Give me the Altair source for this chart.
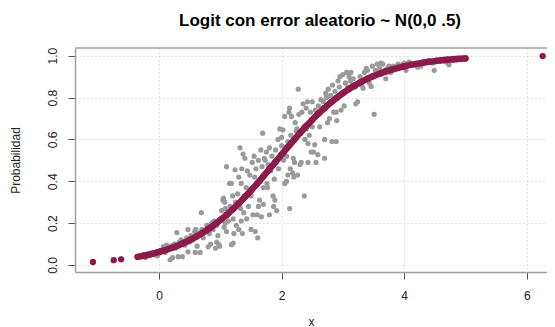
import altair as alt
import pandas as pd

TITLE = "Logit con error aleatorio ~ N(0,0 .5)"
X_TITLE = "x"
Y_TITLE = "Probabilidad"
X_TICKS = [0, 2, 4, 6]
Y_TICKS = [0.0, 0.2, 0.4, 0.6, 0.8, 1.0]
X_DOMAIN = [-1.373, 6.331]
Y_DOMAIN = [-0.0334, 1.0368]

# fitted probabilities (maroon points)
curve_x = [-1.08, -0.74, -0.62, -0.35, -0.25, -0.2, -0.1,
           0.0, 0.1, 0.2, 0.3, 0.4, 0.5, 0.6, 0.7, 0.8, 0.9,
           1.0, 1.1, 1.2, 1.3, 1.4, 1.5, 1.6, 1.7, 1.8, 1.9,
           2.0, 2.1, 2.2, 2.3, 2.4, 2.5, 2.6, 2.7, 2.8, 2.9,
           3.0, 3.1, 3.2, 3.3, 3.4, 3.5, 3.6, 3.7, 3.8, 3.9,
           4.0, 4.1, 4.2, 4.3, 4.4, 4.5, 4.6, 4.7, 4.8, 4.9,
           5.0, 6.26]
curve_p = [0.0143, 0.0230, 0.0271, 0.039, 0.0448, 0.0479, 0.0548,
           0.0626, 0.0714, 0.0813, 0.0924, 0.105, 0.119, 0.1346, 0.152, 0.171, 0.192,
           0.215, 0.239, 0.266, 0.294, 0.325, 0.356, 0.389, 0.423, 0.458, 0.493,
           0.528, 0.563, 0.597, 0.631, 0.663, 0.694, 0.723, 0.750, 0.776, 0.799,
           0.821, 0.841, 0.859, 0.875, 0.890, 0.903, 0.914, 0.925, 0.934, 0.942,
           0.949, 0.956, 0.961, 0.966, 0.971, 0.974, 0.978, 0.981, 0.983, 0.985,
           0.987, 0.998]

# observed (noisy) probabilities, gray points
gray_x = [
    -1.08, -0.74, -0.62, -0.30, -0.25, -0.22, -0.18, -0.15, -0.12, -0.08, -0.05, -0.03, 0.00, 0.02, 0.05, 0.07, 0.08, 0.10, 0.12, 0.15, 0.18, 0.20, 0.22,
    0.25, 0.27, 0.29, 0.31, 0.33, 0.36, 0.38, 0.40, 0.42, 0.45, 0.47, 0.47, 0.50, 0.52, 0.55, 0.58, 0.59,
    0.60, 0.62, 0.64, 0.67, 0.69, 0.70, 0.72, 0.75, 0.78, 0.80, 0.82, 0.84, 0.86, 0.88, 0.90, 0.92, 0.94, 0.94, 0.96, 0.97, 0.99,
    1.00, 1.02, 1.04, 1.05, 1.06, 1.07, 1.08, 1.08, 1.10, 1.10, 1.12, 1.13, 1.15, 1.16, 1.18, 1.18, 1.20, 1.21, 1.21, 1.22, 1.24, 1.25, 1.26, 1.28, 1.30, 1.30, 1.32, 1.33, 1.34, 1.34, 1.35, 1.36, 1.37, 1.38, 1.40, 1.40,
    1.42, 1.43, 1.44, 1.46, 1.48, 1.50, 1.50, 1.52, 1.53, 1.54, 1.55, 1.56, 1.57, 1.58, 1.60, 1.61, 1.62, 1.62, 1.64, 1.65, 1.66, 1.67, 1.68, 1.69, 1.70, 1.70, 1.72, 1.73, 1.74, 1.75, 1.76, 1.77, 1.78, 1.80, 1.80,
    1.82, 1.84, 1.86, 1.87, 1.88, 1.89, 1.90, 1.92, 1.94, 1.95, 1.97, 2.00, 2.00, 2.02, 2.03, 2.05, 2.05, 2.06, 2.08, 2.08, 2.10, 2.10, 2.12, 2.13, 2.13, 2.14, 2.15, 2.16, 2.18, 2.19, 2.20,
    2.21, 2.22, 2.24, 2.25, 2.26, 2.27, 2.28, 2.30, 2.31, 2.32, 2.33, 2.35, 2.36, 2.37, 2.38, 2.40, 2.40, 2.42, 2.43, 2.43, 2.45, 2.47, 2.48, 2.50, 2.50, 2.52, 2.54, 2.55, 2.56, 2.58, 2.59, 2.60,
    2.62, 2.64, 2.66, 2.68, 2.70, 2.70, 2.72, 2.73, 2.75, 2.76, 2.78, 2.80, 2.82, 2.83, 2.85, 2.87, 2.89, 2.89, 2.90, 2.92, 2.94, 2.95, 2.97, 2.98, 3.00,
    3.02, 3.04, 3.06, 3.08, 3.10, 3.12, 3.13, 3.15, 3.17, 3.20, 3.21, 3.24, 3.25, 3.28, 3.30, 3.33, 3.35, 3.38, 3.40, 3.43, 3.46, 3.48, 3.51,
    3.53, 3.56, 3.60, 3.62, 3.65, 3.68, 3.70, 3.72, 3.75, 3.78, 3.82, 3.86, 3.90, 3.95, 3.98,
    4.00, 4.03, 4.06, 4.08, 4.12, 4.18, 4.22, 4.27, 4.32, 4.38, 4.42, 4.46, 4.49, 4.53, 4.58, 4.63, 4.68, 4.73, 4.78, 4.84, 4.90, 6.26,
]
gray_y = [
    0.015, 0.022, 0.028, 0.040, 0.048, 0.036, 0.052, 0.045, 0.058, 0.050, 0.062, 0.044, 0.055, 0.070, 0.068, 0.088, 0.072, 0.060, 0.095, 0.082, 0.025, 0.092, 0.035,
    0.10, 0.08, 0.155, 0.04, 0.11, 0.12, 0.04, 0.11, 0.095, 0.13, 0.17, 0.063, 0.11, 0.14, 0.12, 0.16, 0.06,
    0.17, 0.09, 0.15, 0.06, 0.25, 0.17, 0.13, 0.16, 0.19, 0.087, 0.15, 0.10, 0.20, 0.17, 0.21, 0.08, 0.19, 0.11, 0.14, 0.10, 0.09,
    0.22, 0.26, 0.31, 0.32, 0.18, 0.30, 0.20, 0.27, 0.47, 0.16, 0.25, 0.21, 0.39, 0.28, 0.097, 0.39, 0.33, 0.105, 0.22, 0.15, 0.455, 0.30, 0.19, 0.34, 0.17, 0.42, 0.56, 0.27, 0.39, 0.21, 0.46, 0.15, 0.53, 0.25, 0.51, 0.33,
    0.37, 0.22, 0.45, 0.28, 0.43, 0.33, 0.17, 0.49, 0.24, 0.37, 0.52, 0.42, 0.16, 0.46, 0.24, 0.13, 0.28, 0.50, 0.31, 0.40, 0.55, 0.23, 0.47, 0.63, 0.37, 0.29, 0.51, 0.50, 0.44, 0.54, 0.39, 0.37, 0.48, 0.24, 0.56,
    0.45, 0.52, 0.33, 0.28, 0.41, 0.31, 0.55, 0.26, 0.60, 0.46, 0.65, 0.61, 0.57, 0.646, 0.50, 0.39, 0.71, 0.56, 0.40, 0.52, 0.43, 0.59, 0.73, 0.75, 0.27, 0.46, 0.62, 0.71, 0.44, 0.51, 0.42,
    0.49, 0.68, 0.64, 0.65, 0.43, 0.84, 0.72, 0.48, 0.63, 0.49, 0.73, 0.77, 0.66, 0.33, 0.60, 0.65, 0.75, 0.78, 0.58, 0.49, 0.62, 0.73, 0.54, 0.78, 0.66, 0.54, 0.575, 0.74, 0.49, 0.73, 0.527, 0.76,
    0.66, 0.79, 0.74, 0.78, 0.60, 0.51, 0.82, 0.80, 0.68, 0.84, 0.70, 0.81, 0.59, 0.86, 0.73, 0.83, 0.73, 0.59, 0.69, 0.88, 0.85, 0.90, 0.74, 0.82, 0.91,
    0.76, 0.87, 0.92, 0.85, 0.90, 0.88, 0.92, 0.86, 0.89, 0.85, 0.77, 0.78, 0.87, 0.90, 0.86, 0.845, 0.92, 0.94, 0.93, 0.87, 0.853, 0.95, 0.72,
    0.93, 0.96, 0.94, 0.965, 0.96, 0.92, 0.89, 0.94, 0.95, 0.92, 0.95, 0.94, 0.96, 0.95, 0.96,
    0.965, 0.93, 0.96, 0.97, 0.96, 0.955, 0.945, 0.95, 0.97, 0.97, 0.975, 0.965, 0.93, 0.98, 0.975, 0.98, 0.97, 0.957, 0.98, 0.98, 0.985, 0.997,
]

assert len(curve_x) == len(curve_p)
assert len(gray_x) == len(gray_y)

GRAY = "#9a9a9a"
MAROON = "#8c1a4b"
BOX = "#a0a0a0"
FONT = "Liberation Sans"

gray_df = pd.DataFrame({"x": gray_x, "p": gray_y})
curve_df = pd.DataFrame({"x": curve_x, "p": curve_p})
frame_df = pd.DataFrame({"edge": ["top"]})

xs = alt.Scale(domain=X_DOMAIN, nice=False, zero=False)
ys = alt.Scale(domain=Y_DOMAIN, nice=False, zero=False)

x_axis = alt.Axis(values=X_TICKS, format="d", title=X_TITLE,
                  labelPadding=11, titlePadding=15)
y_axis = alt.Axis(values=Y_TICKS, format=".1f", title=Y_TITLE,
                  labelAngle=-90, labelAlign="center", labelBaseline="bottom",
                  labelPadding=9, titlePadding=24)

gray_layer = alt.Chart(gray_df).mark_circle(size=27, color=GRAY, opacity=1).encode(
    x=alt.X("x:Q", scale=xs, axis=x_axis),
    y=alt.Y("p:Q", scale=ys, axis=y_axis),
)

line_layer = alt.Chart(curve_df).transform_filter(
    "datum.x > -0.4 && datum.x < 5.05"
).mark_line(color=MAROON, strokeWidth=6.5, strokeCap="round").encode(
    x=alt.X("x:Q", scale=xs),
    y=alt.Y("p:Q", scale=ys),
)

pts_layer = alt.Chart(curve_df).mark_circle(size=40, color=MAROON, opacity=1).encode(
    x=alt.X("x:Q", scale=xs),
    y=alt.Y("p:Q", scale=ys),
)

# top edge of the plot box (the right edge lies outside the picture)
top_edge = alt.Chart(frame_df).mark_rule(color=BOX, strokeWidth=1.5).encode(
    y=alt.value(0)
)

chart = alt.layer(gray_layer, line_layer, pts_layer, top_edge).properties(
    width=472,
    height=224,
    autosize=alt.AutoSizeParams(type="none"),
    padding={"left": 67, "top": 40, "right": 0, "bottom": 62},
    title=alt.TitleParams(text=TITLE, font=FONT, fontSize=17, fontWeight="bold",
                          color="#000000", anchor="middle", frame="group",
                          offset=15, dx=9),
).configure_view(
    stroke=None
).configure_axis(
    domain=True, domainColor=BOX, domainWidth=1.5,
    grid=True, gridColor="#c8c8c8", gridDash=[1, 3], gridWidth=1,
    ticks=True, tickSize=7, tickColor="#555555", tickWidth=1,
    labelFont=FONT, labelFontSize=12, labelColor="#222222",
    titleFont=FONT, titleFontSize=12, titleFontWeight="normal", titleColor="#222222",
)

chart.save("out.html", embed_options={"renderer": "svg", "actions": False})
